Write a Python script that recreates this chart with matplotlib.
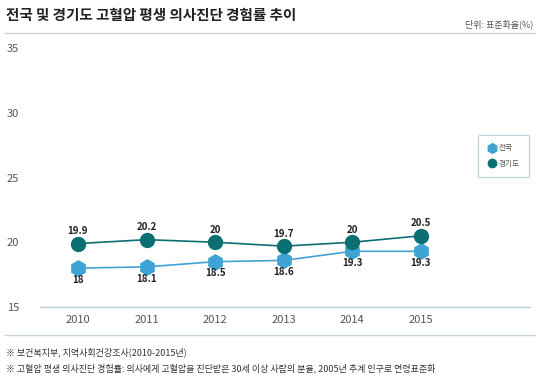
import numpy as np
import matplotlib.pyplot as plt
from matplotlib.lines import Line2D

plt.rcParams['font.family'] = ['Noto Sans CJK KR', 'DejaVu Sans']

years = [2010, 2011, 2012, 2013, 2014, 2015]
nation = [18, 18.1, 18.5, 18.6, 19.3, 19.3]
gyeonggi = [19.9, 20.2, 20, 19.7, 20, 20.5]
yticks = [15, 20, 25, 30, 35]

c_nat = '#3fa3d3'
c_gg = '#0b6f72'
grey = '#555555'

fig = plt.figure(figsize=(5.39, 3.81), dpi=100)
W, H = 539, 381
ax = fig.add_axes([40 / W, (H - 307) / H, 490 / W, 259 / H])

ax.plot(years, nation, color=c_nat, lw=1.2, marker='h', ms=11, mec=c_nat, mfc=c_nat, zorder=3)
ax.plot(years, gyeonggi, color=c_gg, lw=1.2, marker='o', ms=10, mec=c_gg, mfc=c_gg, zorder=3)

for x, v in zip(years, gyeonggi):
    ax.annotate(f'{v:g}', (x, v), xytext=(0, 9), textcoords='offset points',
                ha='center', va='center', fontsize=7, fontweight='bold', color='#222222')
for x, v in zip(years, nation):
    ax.annotate(f'{v:g}', (x, v), xytext=(0, -8.5), textcoords='offset points',
                ha='center', va='center', fontsize=7, fontweight='bold', color='#222222')

ax.set_xlim(2009.446, 2016.59)
ax.set_ylim(15, 35)
ax.set_xticks(years)
ax.set_yticks(yticks)
ax.tick_params(length=0, labelsize=8, colors=grey)
ax.tick_params(axis='x', pad=6)
for lab in ax.get_yticklabels():
    lab.set_ha('left')
ax.yaxis.set_tick_params(pad=24)
for s in ['top', 'right', 'left']:
    ax.spines[s].set_visible(False)
ax.spines['bottom'].set_color('#b9cdd8')
ax.spines['bottom'].set_linewidth(1)

handles = [Line2D([], [], ls='none', marker='h', ms=7, color=c_nat),
           Line2D([], [], ls='none', marker='o', ms=6, color=c_gg)]
leg = ax.legend(handles, ['전국', '경기도'], loc='upper left',
                bbox_to_anchor=((476 - 40) / 490, (307 - 133) / 259),
                fontsize=5.5, frameon=True, handletextpad=0.2, borderpad=1.0,
                labelspacing=1.0, handlelength=1.3)
leg.get_frame().set_edgecolor('#a9c4d2')
leg.get_frame().set_linewidth(0.8)
leg.get_frame().set_boxstyle('round', pad=0.2)
for t in leg.get_texts():
    t.set_color(grey)

fig.text(6 / W, 1 - 15 / H, '전국 및 경기도 고혈압 평생 의사진단 경험률 추이',
         fontsize=10.5, fontweight='bold', color='#222222', va='center')
fig.text(533 / W, 1 - 24 / H, '단위: 표준화율(%)', fontsize=6.5, color=grey,
         ha='right', va='center')
fig.add_artist(Line2D([5 / W, 535 / W], [1 - 33 / H, 1 - 33 / H], color='#c8d6de', lw=1))
fig.add_artist(Line2D([5 / W, 535 / W], [1 - 335 / H, 1 - 335 / H], color='#c8d6de', lw=1))
fig.text(6 / W, 1 - 352 / H, '※ 보건복지부, 지역사회건강조사(2010-2015년)',
         fontsize=6.5, color='#333333', va='center')
fig.text(6 / W, 1 - 368 / H,
         '※ 고혈압 평생 의사진단 경험률: 의사에게 고혈압을 진단받은 30세 이상 사람의 분율, 2005년 추계 인구로 연령표준화',
         fontsize=6.5, color='#333333', va='center')

fig.savefig('out.png', dpi=100)
